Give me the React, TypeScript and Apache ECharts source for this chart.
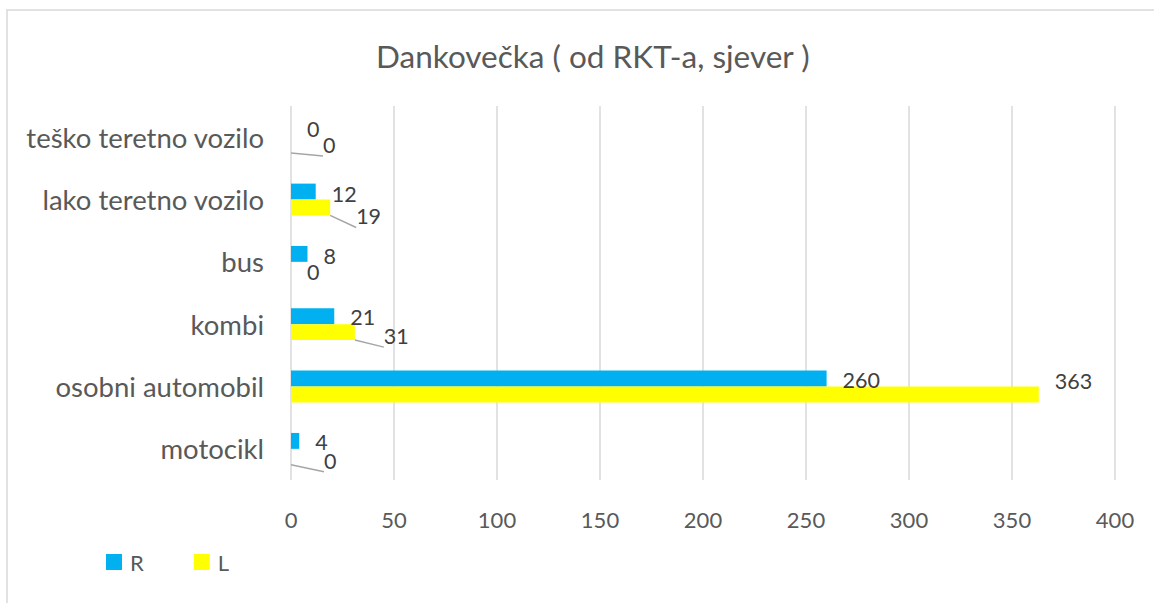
import React, { useEffect, useRef } from 'react';
import * as echarts from 'echarts';

const categories = ['motocikl', 'osobni automobil', 'kombi', 'bus', 'lako teretno vozilo', 'teško teretno vozilo'];
const seriesR = [4, 260, 21, 8, 12, 0];
const seriesL = [0, 363, 31, 0, 19, 0];
const axisMin = 0;
const axisMax = 400;
const axisInterval = 50;

// label nudges (dx, dy) in px, and whether a leader line is drawn
const shiftR = [[0, 1], [0, 1], [0, 1], [0, 2], [0, 2], [0, 0]];
const shiftL = [[17, 4], [0, -13], [13, 4], [0, 2], [10, 9], [16, 0]];
const leaderL = [true, false, true, false, true, true];

const FONT = 'Lato';
const TEXT = '#595959';
const LABEL = '#404040';

export default function App() {
  const ref = useRef<HTMLDivElement>(null);
  useEffect(() => {
    const chart = echarts.init(ref.current!, null, { renderer: 'svg' });
    const mk = (vals: number[], shifts: number[][], leaders?: boolean[]) =>
      vals.map((v, i) => ({
        value: v,
        label: { offset: [shifts[i][0], shifts[i][1]] },
        labelLine: { show: leaders ? leaders[i] : false },
      }));
    chart.setOption({
      animation: false,
      backgroundColor: '#ffffff',
      textStyle: { fontFamily: FONT },
      title: {
        text: 'Dankovečka ( od RKT-a, sjever )',
        left: 371,
        top: 35,
        textStyle: { fontFamily: FONT, fontSize: 31.5, fontWeight: 'normal', color: TEXT },
      },
      legend: {
        left: 101,
        top: 546,
        icon: 'rect',
        itemWidth: 16,
        itemHeight: 16,
        itemGap: 50,
        textStyle: { fontFamily: FONT, fontSize: 22, color: TEXT, padding: [0, 0, 0, 3] },
        data: ['R', 'L'],
      },
      grid: { left: 291, right: 39, top: 106, bottom: 123, containLabel: false },
      xAxis: {
        type: 'value',
        min: axisMin,
        max: axisMax,
        interval: axisInterval,
        axisLine: { show: false },
        axisTick: { show: false },
        splitLine: { lineStyle: { color: '#d9d9d9', width: 1.5 } },
        axisLabel: { fontFamily: FONT, fontSize: 22, color: TEXT, margin: 28 },
      },
      yAxis: {
        type: 'category',
        data: categories,
        axisLine: { show: false },
        axisTick: { show: false },
        axisLabel: { fontFamily: FONT, fontSize: 27.5, color: TEXT, margin: 27 },
      },
      graphic: [
        {
          type: 'rect',
          shape: { x: 7, y: 10, width: 1300, height: 800 },
          style: { fill: 'none', stroke: '#d9d9d9', lineWidth: 1.5 },
          silent: true,
        },
      ],
      series: [
        {
          name: 'R',
          type: 'bar',
          data: mk(seriesR, shiftR),
          itemStyle: { color: '#00B0F0' },
          barGap: '0%',
          barCategoryGap: '49%',
          label: { show: true, position: 'right', distance: 16, fontFamily: FONT, fontSize: 21.5, color: LABEL },
        },
        {
          name: 'L',
          type: 'bar',
          data: mk(seriesL, shiftL, leaderL),
          itemStyle: { color: '#FFFF00' },
          barGap: '0%',
          barCategoryGap: '49%',
          label: { show: true, position: 'right', distance: 16, fontFamily: FONT, fontSize: 21.5, color: LABEL },
          labelLine: { lineStyle: { color: '#a6a6a6', width: 1.5 } },
        },
      ],
    });
    return () => chart.dispose();
  }, []);
  return <div ref={ref} style={{ position: 'fixed', left: 0, top: 0, width: 1154, height: 603 }} />;
}
